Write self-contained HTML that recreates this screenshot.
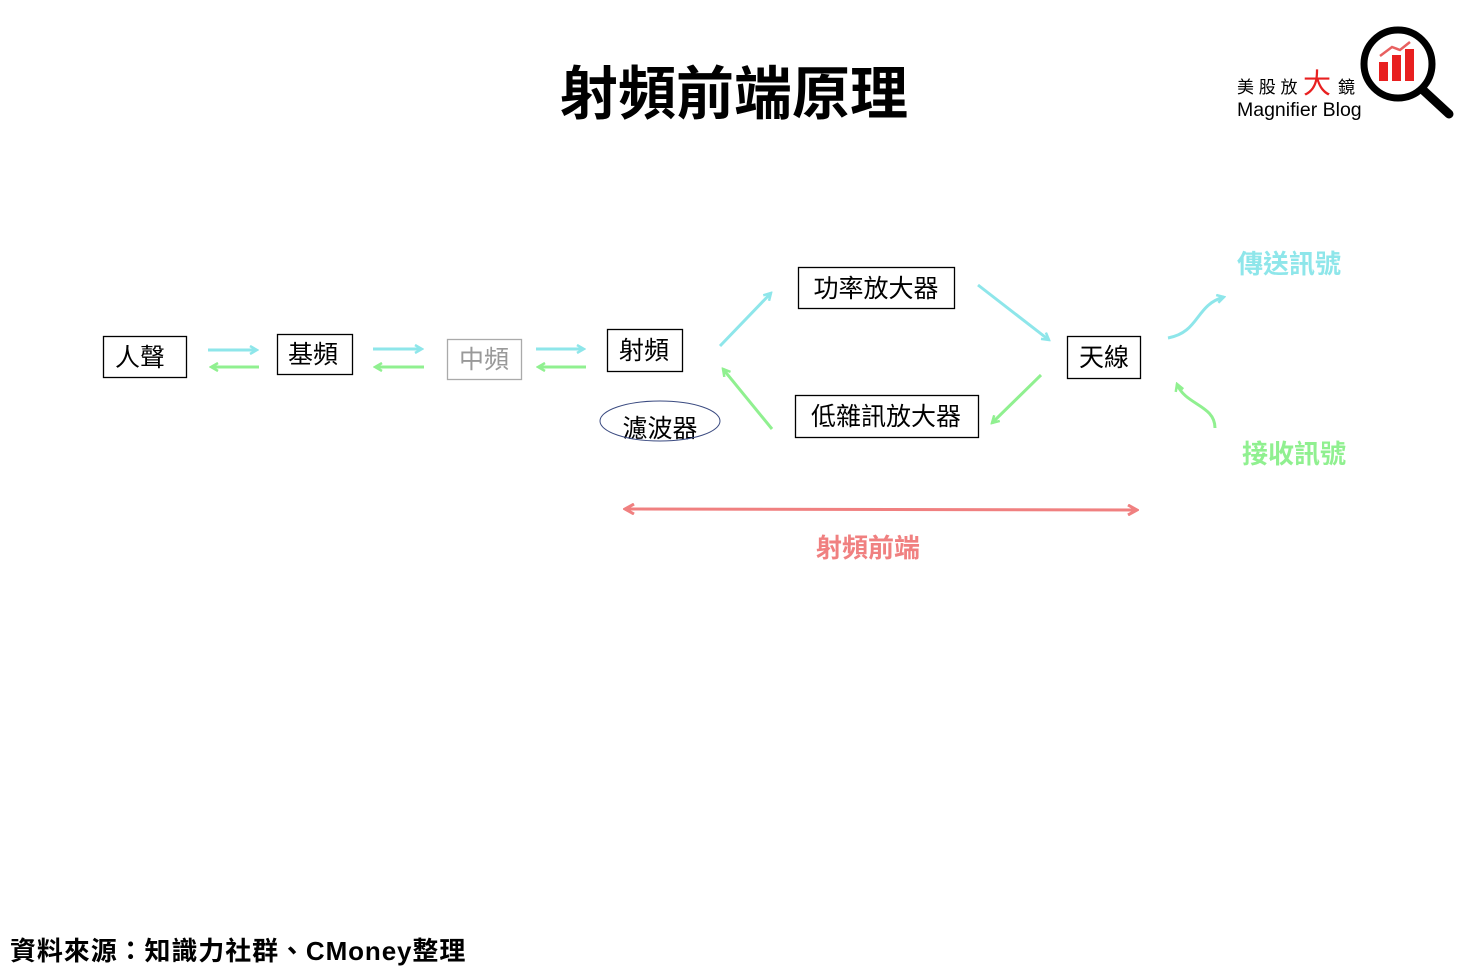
<!DOCTYPE html>
<html><head><meta charset="utf-8"><style>
body{margin:0;background:#fff;}
svg{display:block;font-family:"Liberation Sans","Noto Sans CJK TC",sans-serif;}
</style></head><body>
<svg width="1469" height="980" viewBox="0 0 1469 980">
<defs>
<marker id="c" markerWidth="10" markerHeight="10" refX="8" refY="5" orient="auto" markerUnits="userSpaceOnUse"><path d="M1,1 L8,5 L1,9" fill="none" stroke="#8ee6ea" stroke-width="2.5"/></marker>
<marker id="g" markerWidth="10" markerHeight="10" refX="8" refY="5" orient="auto" markerUnits="userSpaceOnUse"><path d="M1,1 L8,5 L1,9" fill="none" stroke="#90f090" stroke-width="2.5"/></marker>
<marker id="r" markerWidth="12" markerHeight="12" refX="10" refY="6" orient="auto-start-reverse" markerUnits="userSpaceOnUse"><path d="M1,1 L10,6 L1,11" fill="none" stroke="#f08080" stroke-width="3"/></marker>
</defs>
<text x="734" y="114" font-size="58" font-weight="bold" text-anchor="middle" fill="#000">射頻前端原理</text>

<!-- logo -->
<text x="1237" y="93" font-size="17" fill="#000">美 股 放</text>
<text x="1303" y="93" font-size="28" fill="#e82020">大</text>
<text x="1338" y="93" font-size="17" fill="#000">鏡</text>
<text x="1237" y="116" font-size="19.5" fill="#000">Magnifier Blog</text>
<circle cx="1398" cy="64" r="34" fill="none" stroke="#000" stroke-width="7"/>
<line x1="1423" y1="90" x2="1449" y2="114" stroke="#000" stroke-width="9" stroke-linecap="round"/>
<rect x="1379" y="62" width="9" height="19" fill="#e82020"/>
<rect x="1392" y="55" width="9" height="26" fill="#e82020"/>
<rect x="1405" y="49" width="9" height="32" fill="#e82020"/>
<path d="M1380,56 L1392,47 L1400,50 L1410,42" fill="none" stroke="#e86060" stroke-width="2.5"/>

<g fill="none" stroke="#000" stroke-width="1.3">
<rect x="103.5" y="336.5" width="83" height="41"/>
<rect x="277.5" y="334.5" width="75" height="40"/>
<rect x="607.5" y="329.5" width="75" height="42"/>
<rect x="798.5" y="267.5" width="156" height="41"/>
<rect x="795.5" y="395.5" width="183" height="42"/>
<rect x="1067.5" y="336.5" width="73" height="42"/>
</g>
<rect x="447.5" y="339.5" width="74" height="40" fill="none" stroke="#aaa" stroke-width="1.3"/>
<g font-size="25" text-anchor="middle" fill="#000">
<text x="140" y="366">人聲</text>
<text x="313" y="363">基頻</text>
<text x="484" y="368" fill="#999">中頻</text>
<text x="644" y="359">射頻</text>
<text x="876" y="297">功率放大器</text>
<text x="886" y="425">低雜訊放大器</text>
<text x="1104" y="366">天線</text>
<text x="660" y="437">濾波器</text>
</g>
<ellipse cx="660" cy="421" rx="60" ry="20" fill="none" stroke="#3a4a80" stroke-width="1"/>

<g stroke-width="3" fill="none">
<line x1="208" y1="350" x2="257" y2="350" stroke="#8ee6ea" marker-end="url(#c)"/>
<line x1="259" y1="367" x2="211" y2="367" stroke="#90f090" marker-end="url(#g)"/>
<line x1="373" y1="349" x2="422" y2="349" stroke="#8ee6ea" marker-end="url(#c)"/>
<line x1="424" y1="367" x2="375" y2="367" stroke="#90f090" marker-end="url(#g)"/>
<line x1="536" y1="349" x2="584" y2="349" stroke="#8ee6ea" marker-end="url(#c)"/>
<line x1="586" y1="367" x2="538" y2="367" stroke="#90f090" marker-end="url(#g)"/>
<line x1="720" y1="346" x2="771" y2="293" stroke="#8ee6ea" marker-end="url(#c)"/>
<line x1="978" y1="285" x2="1049" y2="340" stroke="#8ee6ea" marker-end="url(#c)"/>
<line x1="1041" y1="375" x2="992" y2="423" stroke="#90f090" marker-end="url(#g)"/>
<line x1="772" y1="429" x2="723" y2="369" stroke="#90f090" marker-end="url(#g)"/>
<path d="M1168,338 C1200,332 1195,305 1224,297" stroke="#8ee6ea" marker-end="url(#c)"/>
<path d="M1215,428 C1215,405 1185,405 1177,384" stroke="#90f090" marker-end="url(#g)"/>
<line x1="625" y1="509" x2="1137" y2="510" stroke="#f08080" marker-start="url(#r)" marker-end="url(#r)"/>
</g>
<text x="1289" y="273" font-size="26" font-weight="bold" text-anchor="middle" fill="#8ee6ea">傳送訊號</text>
<text x="1294" y="463" font-size="26" font-weight="bold" text-anchor="middle" fill="#90f090">接收訊號</text>
<text x="868" y="557" font-size="26" font-weight="bold" text-anchor="middle" fill="#f08080">射頻前端</text>
<text x="10" y="960" font-size="26" font-weight="bold" fill="#000" letter-spacing="0.9">資料來源：知識力社群、CMoney整理</text>
</svg>
</body></html>
